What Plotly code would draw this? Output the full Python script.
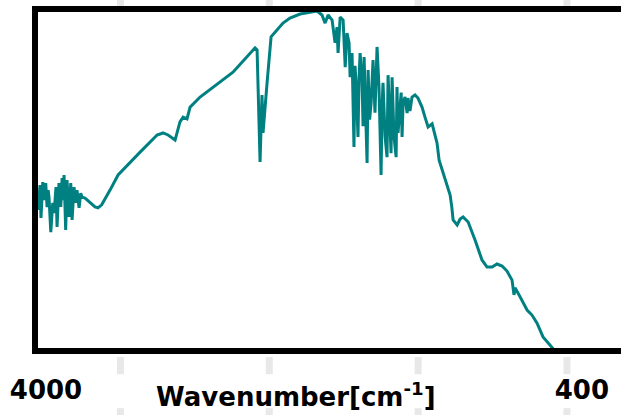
import plotly.graph_objects as go

# IR spectrum (wavenumber in cm-1, transmittance in %)
wavenumber = [
    4058, 4054, 4047, 4040, 4034, 4028, 4022, 4013, 4002, 3993,
    3986, 3980, 3968, 3955, 3946, 3933, 3926, 3913, 3901, 3892,
    3885, 3879, 3868, 3859, 3852, 3845, 3834, 3825, 3812, 3800,
    3792, 3778, 3767, 3758, 3738, 3704, 3671, 3651, 3626, 3570,
    3516, 3368, 3254, 3214, 3180, 3133, 3100, 3079, 3053, 3032,
    2965, 2744, 2596, 2582, 2562, 2549, 2542, 2515, 2488, 2408,
    2361, 2293, 2226, 2179, 2146, 2125, 2105, 2078, 2058, 2045,
    2038, 2024, 2004, 1990, 1978, 1964, 1957, 1944, 1931, 1924,
    1917, 1904, 1897, 1890, 1877, 1870, 1863, 1843, 1836, 1826,
    1816, 1803, 1790, 1776, 1763, 1749, 1742, 1736, 1722, 1709,
    1702, 1689, 1682, 1675, 1662, 1648, 1642, 1635, 1621, 1614,
    1608, 1601, 1588, 1574, 1568, 1555, 1541, 1521, 1501, 1474,
    1454, 1433, 1406, 1373, 1359, 1333, 1312, 1285, 1274, 1265,
    1238, 1218, 1198, 1164, 1117, 1071, 1037, 1003, 970, 936,
    903, 869, 856, 849, 822, 768, 735, 701, 661, 627,
    580,
]
transmittance = [
    46.1, 41.1, 45.0, 48.5, 38.7, 46.0, 49.4, 44.0, 49.1, 41.9,
    47.0, 44.9, 34.5, 43.2, 40.2, 47.9, 36.0, 49.1, 42.0, 50.6,
    44.0, 51.5, 35.1, 50.0, 42.5, 39.0, 49.1, 38.1, 47.9, 43.2,
    47.0, 41.7, 46.1, 44.9, 44.6, 43.4, 42.0, 41.7, 42.6, 47.0,
    51.5, 58.3, 63.4, 64.0, 63.4, 61.9, 67.3, 68.7, 68.2, 71.7,
    74.7, 82.1, 89.3, 88.7, 55.4, 75.3, 64.0, 78.9, 92.6, 96.7,
    98.2, 99.4, 100.0, 100.3, 99.1, 96.7, 99.1, 97.6, 90.8, 95.5,
    87.8, 98.5, 97.6, 83.6, 93.7, 90.8, 80.6, 87.8, 59.8, 84.0,
    78.9, 62.8, 80.0, 87.8, 79.8, 66.0, 86.6, 55.1, 82.7, 68.0,
    72.9, 85.7, 70.0, 89.6, 77.7, 51.5, 72.0, 78.9, 62.8, 56.8,
    81.2, 68.7, 58.0, 80.6, 62.8, 56.8, 77.7, 64.0, 70.8, 76.0,
    62.8, 72.9, 74.7, 69.9, 74.4, 70.5, 74.7, 75.3, 74.4, 71.7,
    68.7, 65.8, 66.7, 61.0, 55.9, 52.4, 49.7, 45.5, 42.0, 38.1,
    36.6, 38.4, 39.0, 37.5, 32.1, 26.2, 24.1, 24.1, 25.0, 24.4,
    22.9, 20.2, 15.8, 17.9, 15.8, 11.3, 9.8, 7.4, 3.3, 1.5,
    -0.9,
]

tick_values = [4000, 400]
tick_labels = ["4000", "400"]
grid_positions = [3500, 2500, 1500, 500]
x_title = "Wavenumber[cm<sup>-1</sup>]"

label_font = dict(family="DejaVu Sans, Liberation Sans, Arial", size=26,
                  color="black", weight="bold")

fig = go.Figure()
fig.add_trace(go.Scatter(
    x=wavenumber, y=transmittance, mode="lines",
    line=dict(color="#008080", width=3),
    hoverinfo="skip", showlegend=False,
))

# light grey grid stubs visible only outside the plot frame
shapes = []
for g in grid_positions:
    for y0, y1 in [(-0.027, -0.078), (-0.179, -0.21), (1.018, 1.05)]:
        shapes.append(dict(type="line", xref="x", yref="paper",
                           x0=g, x1=g, y0=y0, y1=y1,
                           line=dict(color="#e8e8e8", width=7)))

fig.update_layout(
    width=621, height=415,
    margin=dict(l=38, r=0, t=12, b=67),
    paper_bgcolor="white", plot_bgcolor="white",
    shapes=shapes,
    xaxis=dict(
        range=[4054, 137], showgrid=False, zeroline=False,
        showline=True, linecolor="black", linewidth=6, mirror=True,
        tickvals=tick_values, ticktext=tick_labels, ticks="",
        tickfont=label_font,
        ticklabelstandoff=14,
    ),
    yaxis=dict(
        range=[0, 100], showgrid=False, zeroline=False,
        showline=True, linecolor="black", linewidth=6, mirror=False,
        showticklabels=False, ticks="",
    ),
    annotations=[dict(
        text=x_title, xref="paper", yref="paper", x=0.443, y=0,
        xanchor="center", yanchor="top", yshift=-28, showarrow=False,
        font=label_font,
    )],
)

fig.write_html(
    "out.html",
    config={"displayModeBar": False},
    post_script="document.body.style.margin='0px';",
)
